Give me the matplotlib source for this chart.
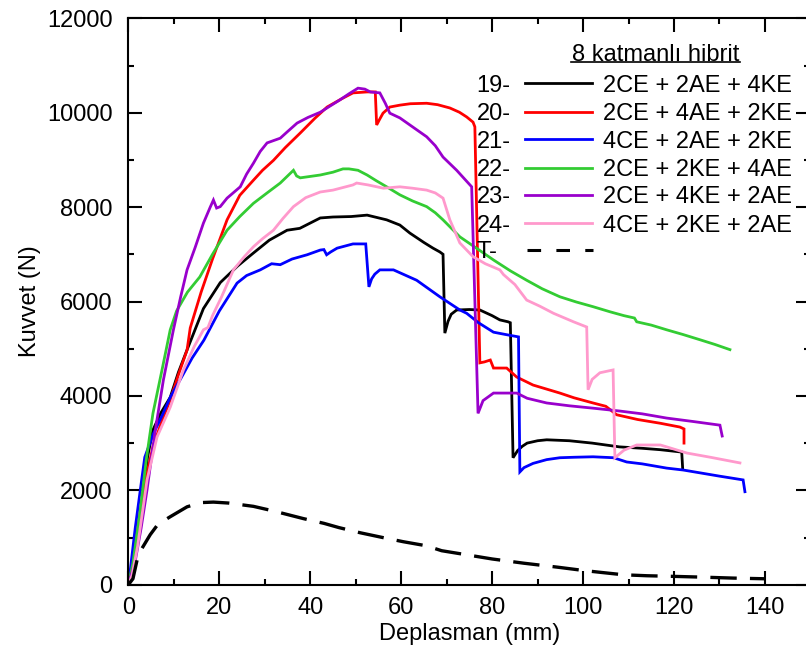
import matplotlib
matplotlib.use("Agg")
import matplotlib.pyplot as plt
from matplotlib.ticker import MultipleLocator
from matplotlib.lines import Line2D

plt.rcParams['font.family'] = ['Liberation Sans', 'DejaVu Sans']
plt.rcParams['font.size'] = 17
plt.rcParams['lines.scale_dashes'] = False

# ---- data: displacement (mm) vs force (N) ----
x19 = [0, 0.4, 1.5, 3.0, 4.2, 5.4, 7.2, 9.2, 11, 13, 16.5, 20.2, 24, 27.4, 31, 34.9, 37.7, 42.2, 45, 49,
       52.5, 56.8, 59.7, 61.9, 65, 67, 68.5, 69.2, 69.6, 70.3, 71.0, 72.2, 75, 77.3, 80, 81.7, 83.5, 84.0,
       84.6, 85.6, 86.6, 87.7, 90, 92, 97, 102, 108, 113, 117, 121.7, 121.9]
y19 = [0, 150, 600, 1700, 2700, 3280, 3650, 3970, 4500, 5000, 5850, 6400, 6750, 7020, 7300, 7510, 7550,
       7770, 7790, 7800, 7830, 7730, 7620, 7450, 7250, 7130, 7050, 7000, 5330, 5580, 5730, 5820, 5830,
       5820, 5700, 5610, 5570, 5550, 2690, 2840, 2930, 3000, 3050, 3070, 3050, 3000, 2920, 2890, 2860,
       2810, 2470]

x20 = [0, 1.0, 2.2, 3.6, 5.4, 7.3, 9.2, 11, 12.9, 13.6, 16, 18.5, 21.7, 24.5, 27.5, 29.5, 31.9, 34.5, 37.8,
       41, 43.7, 47, 49.4, 52.5, 54.3, 54.6, 55.2, 56, 57.5, 59.7, 62, 65.6, 68, 70.7, 72.8, 74.4, 75.8,
       76.2, 77.3, 78.3, 79.6, 80.3, 83.2, 85.4, 89, 94.9, 98, 102.2, 105, 107.4, 112, 117, 121.3, 122.2,
       122.2]
y20 = [0, 460, 1300, 2150, 2920, 3450, 3910, 4450, 4970, 5440, 6200, 6900, 7730, 8250, 8570, 8780, 8990,
       9260, 9570, 9880, 10120, 10300, 10420, 10440, 10440, 9740, 9850, 9990, 10120, 10160, 10190, 10200,
       10170, 10100, 10010, 9910, 9800, 9700, 4700, 4720, 4760, 4590, 4590, 4400, 4230, 4060, 3960, 3850,
       3780, 3600, 3500, 3420, 3340, 3300, 3000]

x21 = [0, 0.4, 1.5, 3.0, 3.6, 5.5, 7.5, 9.2, 12, 14, 16.6, 20, 23.9, 26, 29, 31.5, 33.4, 36, 39.3, 42.2,
       43.0, 43.6, 44.5, 45.9, 49.4, 52.2, 52.9, 53.5, 54.2, 55.3, 58.3, 63.4, 68.5, 72.9, 74.4, 77, 80.3,
       83, 85.8, 86.1, 87, 89, 92, 94.9, 98, 102.2, 106.7, 109.6, 113, 118.4, 122, 125.7, 130, 135.2, 135.6]
y21 = [0, 300, 1200, 2280, 2700, 3200, 3600, 3970, 4450, 4800, 5180, 5800, 6390, 6550, 6670, 6800, 6780,
       6900, 6990, 7090, 7100, 6990, 7050, 7130, 7220, 7220, 6310, 6480, 6580, 6670, 6670, 6450, 6100,
       5820, 5750, 5550, 5350, 5300, 5250, 2390, 2480, 2570, 2650, 2690, 2700, 2710, 2690, 2600, 2560,
       2470, 2430, 2370, 2300, 2220, 1970]

x22 = [0, 1, 2.5, 4, 5.4, 7.5, 9.2, 10.6, 13, 15.7, 18.5, 21.7, 24.5, 27.5, 30.5, 33.4, 36.3, 37.0, 37.8,
       40, 42.2, 45, 47.2, 48.5, 50.5, 52.5, 54.5, 56.8, 59.7, 62.5, 65.6, 67.5, 69.2, 72.9, 77, 80.3, 84,
       87.6, 91, 94.9, 98.5, 102.2, 106, 109, 111.3, 111.8, 115, 118.4, 122, 125.7, 129, 132.3]
y22 = [0, 460, 1500, 2700, 3630, 4600, 5400, 5800, 6200, 6520, 7000, 7510, 7800, 8080, 8300, 8510, 8780,
       8660, 8620, 8650, 8680, 8740, 8810, 8810, 8780, 8680, 8560, 8430, 8260, 8130, 8010, 7880, 7730,
       7370, 7100, 6880, 6650, 6450, 6270, 6100, 5990, 5890, 5780, 5700, 5650, 5570, 5500, 5400, 5300,
       5190, 5090, 4980]

x23 = [0, 1.5, 2.8, 4.1, 5.8, 7.7, 9.9, 11.5, 12.9, 14.7, 16.5, 18.0, 18.7, 19.4, 20.2, 21.7, 24.6, 26,
       27.5, 29, 30.5, 33.4, 35, 37.1, 39.5, 42.2, 44.5, 46.5, 48.5, 50.5, 52, 53.2, 55.3, 56.5, 57.5, 59.7,
       62.5, 65.6, 67.5, 69.2, 72.2, 75.5, 76.9, 78, 80.3, 85.4, 87.7, 92, 97, 102.2, 108, 113, 118.4, 124,
       130.1, 130.6]
y23 = [0, 500, 1200, 2010, 3200, 4340, 5400, 6100, 6670, 7150, 7660, 8000, 8150, 7980, 8010, 8190, 8430,
       8700, 8930, 9180, 9360, 9460, 9600, 9780, 9900, 10010, 10150, 10270, 10400, 10520, 10500, 10440,
       10420, 10200, 9990, 9890, 9700, 9490, 9300, 9060, 8780, 8430, 3630, 3900, 4060, 4060, 3950, 3850,
       3790, 3740, 3680, 3620, 3530, 3460, 3380, 3150]

x24 = [0, 0.8, 2, 4.1, 6.3, 9.2, 12.1, 14.5, 16.5, 17.5, 18.5, 20.5, 23.1, 25.5, 27.5, 29.5, 31.9, 34,
       36.3, 39, 42.2, 45, 49.4, 50.2, 52.7, 56.1, 59.7, 62.5, 65.6, 67.5, 69.2, 70.7, 72.9, 75.8, 78.5,
       81.7, 82.5, 85, 87.6, 90.5, 93.5, 97.9, 100.8, 101.1, 102, 103.7, 106.6, 107.0, 109, 111.8, 117,
       118.4, 122.8, 128, 134.5]
y24 = [0, 200, 800, 2220, 3130, 3760, 4550, 5050, 5400, 5450, 5700, 6100, 6670, 6950, 7160, 7330, 7510,
       7760, 8010, 8200, 8320, 8360, 8470, 8510, 8470, 8400, 8430, 8400, 8360, 8300, 8190, 7730, 7240,
       6950, 6800, 6670, 6570, 6360, 6030, 5900, 5750, 5570, 5460, 4130, 4350, 4490, 4550, 2690, 2850,
       2960, 2960, 2920, 2790, 2700, 2580]

xT = [0, 1, 1.9, 2.9, 4.8, 6.5, 9.2, 12.9, 16, 18.7, 22, 27.5, 32, 38.5, 43, 46.3, 51, 55.9, 60.5, 65.5,
      68.9, 74, 80, 87, 94.5, 100.2, 104, 108.9, 114, 120.5, 127, 133, 139.8]
yT = [0, 126, 520, 755, 1060, 1280, 1440, 1650, 1740, 1750, 1730, 1660, 1560, 1400, 1300, 1210, 1100,
      1000, 910, 825, 720, 640, 545, 455, 370, 300, 260, 210, 190, 175, 158, 140, 126]

series_ids = ['19-', '20-', '21-', '22-', '23-', '24-']
series_labels = ['2CE + 2AE + 4KE', '2CE + 4AE + 2KE', '4CE + 2AE + 2KE',
                 '2CE + 2KE + 4AE', '2CE + 4KE + 2AE', '4CE + 2KE + 2AE']
series_x = [x19, x20, x21, x22, x23, x24]
series_y = [y19, y20, y21, y22, y23, y24]
colors = ['#000000', '#ff0000', '#0000ff', '#33cc33', '#9900cc', '#ff99cc']
legend_title = '8 katmanlı hibrit'

fig = plt.figure(figsize=(8.06, 6.57), dpi=100)
W, H = 806.0, 657.0
L, R, T, B = 128.4, 810.4, 18.3, 584.7
ax = fig.add_axes([L / W, (H - B) / H, (R - L) / W, (B - T) / H])

lw = 2.0
for xs, ys, c in zip(series_x, series_y, colors):
    ax.plot(xs, ys, color=c, lw=lw, solid_joinstyle='miter')
ax.plot(xT, yT, color='black', lw=2.4, dashes=(19, 9.5))

ax.set_xlim(0, 150)
ax.set_ylim(0, 12000)
ax.xaxis.set_major_locator(MultipleLocator(20))
ax.xaxis.set_minor_locator(MultipleLocator(10))
ax.yaxis.set_major_locator(MultipleLocator(2000))
ax.yaxis.set_minor_locator(MultipleLocator(1000))
ax.set_xticks(range(0, 141, 20))
ax.tick_params(which='both', direction='in', top=True, right=True, width=1.5, color='black')
ax.tick_params(which='major', length=10)
ax.tick_params(which='minor', length=4.5)
ax.tick_params(axis='x', which='major', pad=9)
ax.tick_params(axis='y', which='major', pad=11.5)
for sp in ax.spines.values():
    sp.set_linewidth(1.5)

ax.set_xlabel('Deplasman (mm)', labelpad=3)
ax.set_ylabel('Kuvvet (N)', labelpad=4)


# legend block, laid out in axes fractions
def fx(px):
    return (px - L) / (R - L)


def fy(py):
    return (B - py) / (B - T)


ax.text(fx(655.5), fy(61), legend_title, ha='center', va='baseline', transform=ax.transAxes)
ax.add_line(Line2D([fx(571), fx(740)], [fy(61.5), fy(61.5)], color='black', lw=1.2,
                   transform=ax.transAxes))

rows = [83.3, 111.7, 139.3, 167.7, 195, 223.3]
for rid, lab, c, ry in zip(series_ids, series_labels, colors, rows):
    ax.text(fx(476.7), fy(ry + 8.3), rid, ha='left', va='baseline', transform=ax.transAxes)
    ax.add_line(Line2D([fx(525), fx(591.7)], [fy(ry), fy(ry)], color=c, lw=2.0,
                       transform=ax.transAxes))
    ax.text(fx(603.3), fy(ry + 8.3), lab, ha='left', va='baseline', transform=ax.transAxes)

ax.text(fx(476.7), fy(250 + 8.3), 'T-', ha='left', va='baseline', transform=ax.transAxes)
ax.add_line(Line2D([fx(526.5), fx(592.5)], [fy(250), fy(250)], color='black', lw=2.2,
                   dashes=(9.8, 11), transform=ax.transAxes))

fig.savefig('out.png', dpi=100)
